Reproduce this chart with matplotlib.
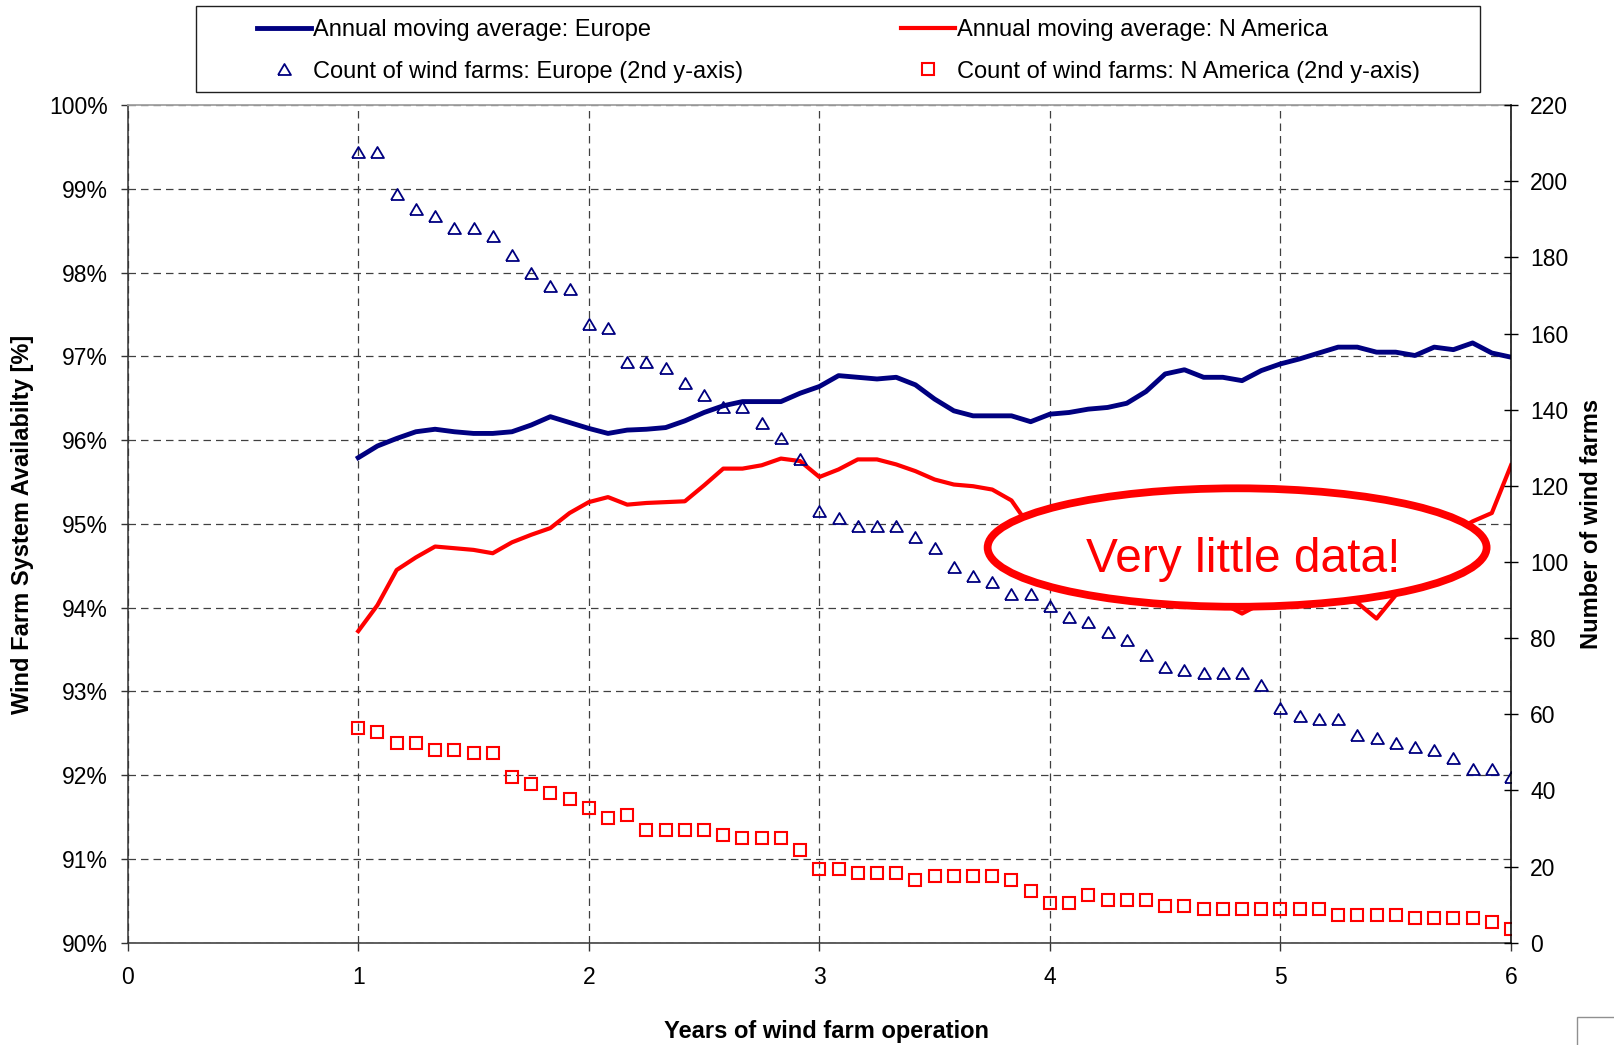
import matplotlib
matplotlib.use('Agg')
import matplotlib.pyplot as plt
from matplotlib.patches import Ellipse, Rectangle
import numpy as np

plt.rcParams['font.family'] = ['Liberation Sans', 'DejaVu Sans']

# ---------------- data ----------------
# months of operation (12 .. 72), plotted in years
months = list(range(12, 73))

eu_avail = [95.79, 95.93, 96.02, 96.10, 96.13, 96.10, 96.08, 96.08, 96.10, 96.18,
            96.28, 96.21, 96.14, 96.08, 96.12, 96.13, 96.15, 96.23, 96.33, 96.41,
            96.46, 96.46, 96.46, 96.56, 96.64, 96.77, 96.75, 96.73, 96.75, 96.66,
            96.49, 96.35, 96.29, 96.29, 96.29, 96.22, 96.31, 96.33, 96.37, 96.39,
            96.44, 96.58, 96.79, 96.84, 96.75, 96.75, 96.71, 96.83, 96.91, 96.97,
            97.04, 97.11, 97.11, 97.05, 97.05, 97.01, 97.11, 97.08, 97.16, 97.04,
            96.99]

na_avail = [93.72, 94.03, 94.45, 94.60, 94.73, 94.71, 94.69, 94.65, 94.78, 94.87,
            94.95, 95.13, 95.26, 95.32, 95.23, 95.25, 95.26, 95.27, 95.46, 95.66,
            95.66, 95.70, 95.78, 95.75, 95.56, 95.65, 95.77, 95.77, 95.71, 95.63,
            95.53, 95.47, 95.45, 95.41, 95.28, 94.95, 94.80, 94.62, 94.50, 94.42,
            94.36, 94.30, 94.25, 94.20, 94.12, 94.05, 93.93, 94.05, 94.14, 94.20,
            94.20, 94.15, 94.06, 93.87, 94.15, 94.40, 94.65, 94.90, 95.03, 95.13,
            95.70]

eu_count = [207.6, 207.6, 196.6, 192.6, 190.9, 187.8, 187.8, 185.5, 180.6, 175.8,
            172.6, 171.7, 162.5, 161.4, 152.5, 152.5, 150.9, 146.9, 143.8, 140.6,
            140.6, 136.6, 132.6, 127.0, 113.4, 111.6, 109.5, 109.5, 109.5, 106.6,
            103.6, 98.8, 96.4, 94.7, 91.5, 91.5, 88.5, 85.6, 84.3, 81.7,
            79.5, 75.6, 72.5, 71.6, 70.8, 70.8, 70.8, 67.6, 61.6, 59.6,
            58.7, 58.7, 54.6, 53.7, 52.4, 51.5, 50.6, 48.4, 45.6, 45.6,
            43.6]

na_count = [56.3, 55.4, 52.4, 52.4, 50.6, 50.6, 49.8, 49.8, 43.5, 41.7,
            39.4, 37.7, 35.5, 32.7, 33.6, 29.6, 29.6, 29.6, 29.6, 28.3,
            27.4, 27.4, 27.4, 24.4, 19.5, 19.5, 18.4, 18.4, 18.4, 16.5,
            17.6, 17.6, 17.6, 17.6, 16.5, 13.6, 10.5, 10.5, 12.6, 11.3,
            11.3, 11.3, 9.7, 9.7, 8.8, 8.8, 8.8, 8.8, 8.8, 8.8,
            8.8, 7.4, 7.4, 7.4, 7.4, 6.5, 6.5, 6.5, 6.5, 5.5,
            3.5]

x_ticks = [0, 1, 2, 3, 4, 5, 6]
y_ticks = [90, 91, 92, 93, 94, 95, 96, 97, 98, 99, 100]
y2_ticks = [0, 20, 40, 60, 80, 100, 120, 140, 160, 180, 200, 220]

labels = ["Annual moving average: Europe",
          "Count of wind farms: Europe (2nd y-axis)",
          "Annual moving average: N America",
          "Count of wind farms: N America (2nd y-axis)"]

NAVY = '#000080'
RED = '#FF0000'

years = np.array(months) / 12.0

# ---------------- figure ----------------
fig = plt.figure(figsize=(16.14, 10.45), dpi=100)
ax1 = fig.add_axes([0.0791, 0.0978, 0.9362 - 0.0791, 0.8995 - 0.0978])
ax2 = ax1.twinx()

l_eu, = ax1.plot(years, eu_avail, color=NAVY, lw=3.5, zorder=3)
l_na, = ax1.plot(years, na_avail, color=RED, lw=3.0, zorder=3)

tri = [(-1, -0.85), (1, -0.85), (0, 0.85), (-1, -0.85)]
m_eu, = ax2.plot(years, eu_count, ls='none', marker=tri, ms=9.3,
                 mfc='none', mec=NAVY, mew=1.3)
m_na, = ax2.plot(years, na_count, ls='none', marker='s', ms=9.2,
                 mfc='none', mec=RED, mew=1.5)

ax1.set_xlim(0, 6)
ax1.set_ylim(90, 100)
ax2.set_ylim(0, 220)
ax1.set_xticks(x_ticks)
ax1.set_xticklabels([str(t) for t in x_ticks])
ax1.set_yticks(y_ticks)
ax1.set_yticklabels([f"{t}%" for t in y_ticks])
ax2.set_yticks(y2_ticks)
ax2.set_yticklabels([str(t) for t in y2_ticks])

ax1.grid(True, color='#404040', lw=0.9, linestyle=(0, (6, 4)))

ax1.tick_params(axis='y', direction='out', length=5, width=1, pad=9,
                labelsize=16.5, color='#333333')
ax1.tick_params(axis='x', direction='out', length=5.5, width=1, pad=11.5,
                labelsize=16.5, color='#333333')
ax2.tick_params(axis='y', direction='inout', length=10.5, width=1, pad=8.5,
                labelsize=16.5, color='black')

for s in ['left', 'bottom']:
    ax1.spines[s].set_color('#333333')
    ax1.spines[s].set_linewidth(1.1)
ax1.spines['top'].set_color('#a0a0a0')
ax1.spines['top'].set_linewidth(1.3)
ax1.spines['right'].set_visible(False)
for s in ['left', 'bottom', 'top']:
    ax2.spines[s].set_visible(False)
ax2.spines['right'].set_color('black')
ax2.spines['right'].set_linewidth(1.1)

# axis titles
fig.text(0.014, 0.4986, "Wind Farm System Availabilty [%]", rotation=90,
         ha='center', va='center', fontsize=17, fontweight='bold')
fig.text(0.9858, 0.4986, "Number of wind farms", rotation=90,
         ha='center', va='center', fontsize=17, fontweight='bold')
fig.text(0.512, 0.013, "Years of wind farm operation",
         ha='center', va='center', fontsize=17, fontweight='bold')

# annotation ellipse
ell = Ellipse((0.802, 0.4718), 0.3607, 0.1414, transform=ax2.transAxes,
              facecolor='white', edgecolor=RED, lw=5.6, zorder=10)
ax2.add_patch(ell)
ax2.text(0.8066, 0.4429, "Very little data!", transform=ax2.transAxes,
         ha='center', va='baseline', fontsize=34.5, color=RED, zorder=11)

# legend
fig.legend(handles=[l_eu, m_eu, l_na, m_na], labels=labels, ncol=2,
           mode='expand', loc='center',
           bbox_to_anchor=(0.1594, 0.9512, 0.7206, 0),
           frameon=False, fontsize=17, handlelength=2.27,
           handletextpad=0.1, labelspacing=0.82, borderpad=0,
           borderaxespad=0)
fig.patches.append(Rectangle((0.1212, 0.9123), 0.7958, 0.0818,
                             transform=fig.transFigure, fill=False,
                             edgecolor='#202020', lw=1.0))

# stray frame at bottom-right corner of the original slide
fig.patches.append(Rectangle((0.9769, -0.01), 0.1, 0.0371,
                             transform=fig.transFigure, fill=False,
                             edgecolor='#909090', lw=1.0))

fig.savefig('out.png', dpi=100)
